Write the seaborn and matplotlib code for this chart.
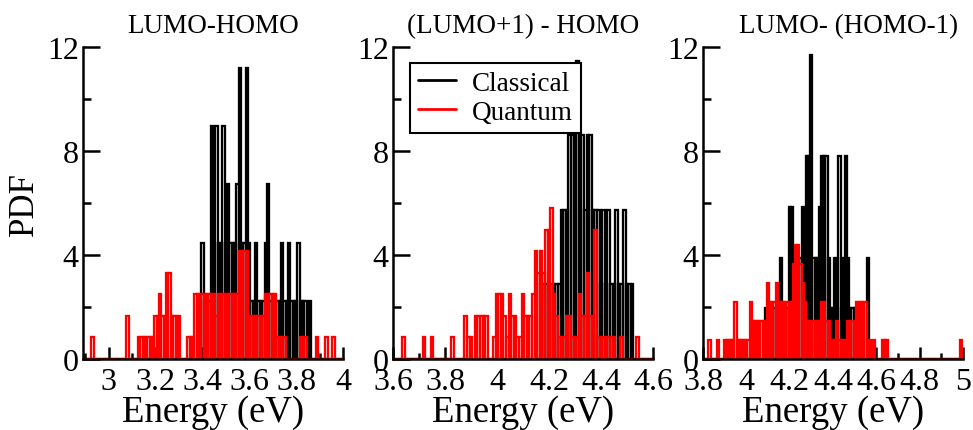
import numpy as np
import matplotlib.pyplot as plt
import seaborn as sns
from matplotlib.lines import Line2D
from matplotlib.ticker import MultipleLocator, FuncFormatter

# ----------- DATA (bin centres in eV, PDF height per bin) ------------

titles = ["LUMO-HOMO", "(LUMO+1) - HOMO", "LUMO- (HOMO-1)"]
xlims = [(2.89, 4.0), (3.6, 4.6), (3.8, 5.0)]

# LUMO-HOMO
lh_quant_e = [2.93, 3.08, 3.13, 3.14, 3.15, 3.16, 3.17, 3.18, 3.19, 3.20, 3.21,
              3.22, 3.23, 3.24, 3.25, 3.26, 3.27, 3.28, 3.29, 3.30, 3.34, 3.35,
              3.36, 3.37, 3.38, 3.39, 3.40, 3.41, 3.42, 3.43, 3.44, 3.45, 3.46,
              3.47, 3.48, 3.49, 3.50, 3.51, 3.52, 3.53, 3.54, 3.55, 3.56, 3.57,
              3.58, 3.59, 3.60, 3.61, 3.62, 3.63, 3.64, 3.65, 3.66, 3.67, 3.68,
              3.69, 3.70, 3.71, 3.72, 3.73, 3.74, 3.75, 3.82, 3.83, 3.84, 3.89,
              3.93, 3.96]
lh_quant_pdf = [0.83, 1.66, 0.83, 0.83, 0.83, 0.83, 0.83, 0.83, 0.83, 1.66, 1.66,
                2.49, 1.66, 1.66, 3.32, 3.32, 1.66, 1.66, 1.66, 1.66, 0.83, 0.83,
                0.83, 2.49, 2.49, 2.49, 2.49, 2.49, 2.49, 2.49, 2.49, 2.49, 1.66,
                2.49, 2.49, 2.49, 2.49, 2.49, 2.49, 2.49, 2.49, 2.49, 4.15, 4.15,
                4.15, 4.15, 1.66, 1.66, 1.66, 1.66, 1.66, 1.66, 1.66, 2.49, 2.49,
                2.49, 2.49, 2.49, 0.83, 0.83, 0.83, 0.83, 0.83, 0.83, 0.83, 0.83,
                0.83, 0.83]
lh_class_e = [3.40, 3.41, 3.42, 3.43, 3.44, 3.45, 3.46, 3.47, 3.48, 3.49, 3.50,
              3.51, 3.52, 3.53, 3.54, 3.55, 3.56, 3.57, 3.58, 3.59, 3.60, 3.61,
              3.62, 3.63, 3.64, 3.65, 3.66, 3.67, 3.68, 3.69, 3.70, 3.71, 3.72,
              3.73, 3.74, 3.75, 3.76, 3.77, 3.78, 3.79, 3.80, 3.81, 3.82, 3.83,
              3.84, 3.86]
lh_class_pdf = [4.48, 2.24, 2.24, 2.24, 8.96, 4.48, 8.96, 4.48, 4.48, 8.96, 4.48,
                6.72, 4.48, 4.48, 4.48, 6.72, 11.2, 4.48, 4.48, 11.2, 4.48, 2.24,
                2.24, 4.48, 2.24, 2.24, 2.24, 4.48, 6.72, 2.24, 2.24, 2.24, 2.24,
                2.24, 4.48, 2.24, 2.24, 4.48, 2.24, 2.24, 2.24, 4.48, 2.24, 2.24,
                2.24, 2.24]

# (LUMO+1) - HOMO
l1h_quant_e = [3.64, 3.72, 3.75, 3.83, 3.88, 3.89, 3.90, 3.92, 3.93, 3.94, 3.95,
               3.96, 3.99, 4.00, 4.01, 4.02, 4.03, 4.04, 4.05, 4.06, 4.07, 4.08,
               4.09, 4.10, 4.11, 4.12, 4.13, 4.14, 4.15, 4.16, 4.17, 4.18, 4.19,
               4.20, 4.21, 4.22, 4.23, 4.24, 4.25, 4.26, 4.27, 4.28, 4.29, 4.30,
               4.31, 4.32, 4.33, 4.34, 4.35, 4.36, 4.37, 4.38, 4.39, 4.40, 4.41,
               4.42, 4.43, 4.44, 4.45, 4.48, 4.54]
l1h_quant_pdf = [0.83, 0.83, 0.83, 0.83, 1.66, 0.83, 0.83, 1.66, 1.66, 1.66, 1.66,
                 1.66, 0.83, 2.49, 2.49, 2.49, 1.66, 0.83, 2.49, 1.66, 1.66, 0.83,
                 0.83, 2.49, 1.66, 1.66, 1.66, 2.49, 4.15, 3.32, 4.15, 3.32, 4.98,
                 4.98, 5.81, 2.49, 1.66, 0.83, 0.83, 0.83, 1.66, 1.66, 0.83, 0.83,
                 0.83, 2.49, 1.66, 1.66, 3.32, 1.66, 1.66, 4.98, 0.83, 0.83, 0.83,
                 0.83, 0.83, 0.83, 0.83, 0.83, 0.83]
l1h_class_e = [4.17, 4.18, 4.19, 4.20, 4.21, 4.22, 4.23, 4.24, 4.25, 4.26, 4.27,
               4.28, 4.29, 4.30, 4.31, 4.32, 4.33, 4.34, 4.35, 4.36, 4.37, 4.38,
               4.39, 4.40, 4.41, 4.42, 4.43, 4.44, 4.45, 4.46, 4.47, 4.48, 4.49,
               4.50, 4.51, 4.52]
l1h_class_pdf = [2.87, 2.87, 2.87, 2.87, 2.87, 2.87, 2.87, 2.87, 5.74, 5.74, 5.74,
                 8.61, 8.61, 8.61, 11.48, 8.61, 8.61, 5.74, 8.61, 8.61, 5.74, 5.74,
                 5.74, 2.87, 5.74, 2.87, 5.74, 2.87, 2.87, 5.74, 2.87, 2.87, 5.74,
                 2.87, 2.87, 2.87]

# LUMO- (HOMO-1)
lh1_quant_e = [3.83, 3.87, 3.90, 3.91, 3.92, 3.93, 3.94, 3.95, 3.96, 3.97, 3.98,
               3.99, 4.00, 4.01, 4.02, 4.03, 4.04, 4.05, 4.06, 4.07, 4.08, 4.09,
               4.10, 4.11, 4.12, 4.13, 4.14, 4.15, 4.16, 4.17, 4.18, 4.19, 4.20,
               4.21, 4.22, 4.23, 4.24, 4.25, 4.26, 4.27, 4.28, 4.29, 4.30, 4.31,
               4.32, 4.33, 4.34, 4.35, 4.36, 4.37, 4.38, 4.39, 4.40, 4.41, 4.42,
               4.43, 4.44, 4.45, 4.46, 4.47, 4.48, 4.49, 4.50, 4.51, 4.52, 4.53,
               4.54, 4.55, 4.56, 4.57, 4.59, 4.63, 4.64, 4.65, 4.99]
lh1_quant_pdf = [0.73, 0.73, 0.73, 0.73, 0.73, 0.73, 0.73, 2.19, 0.73, 0.73, 0.73,
                 0.73, 0.73, 0.73, 2.19, 1.46, 1.46, 1.46, 1.46, 1.46, 1.46, 1.46,
                 2.92, 2.19, 2.19, 2.19, 2.92, 2.19, 2.19, 2.19, 2.19, 2.19, 2.19,
                 2.19, 3.65, 4.38, 4.38, 3.65, 2.92, 2.19, 1.46, 1.46, 1.46, 1.46,
                 1.46, 1.46, 1.46, 2.19, 2.19, 1.46, 1.46, 0.73, 0.73, 0.73, 1.46,
                 0.73, 0.73, 0.73, 0.73, 1.46, 1.46, 1.46, 1.46, 2.19, 2.19, 2.19,
                 2.19, 2.19, 0.73, 0.73, 0.73, 0.73, 0.73, 0.73, 0.73]
lh1_class_e = [4.09, 4.10, 4.11, 4.12, 4.13, 4.14, 4.15, 4.16, 4.17, 4.18, 4.19,
               4.20, 4.21, 4.22, 4.23, 4.24, 4.25, 4.26, 4.27, 4.28, 4.29, 4.30,
               4.31, 4.32, 4.33, 4.34, 4.35, 4.36, 4.37, 4.38, 4.39, 4.40, 4.41,
               4.42, 4.43, 4.44, 4.45, 4.46, 4.47, 4.48, 4.49, 4.50, 4.51, 4.52,
               4.53, 4.54, 4.56]
lh1_class_pdf = [1.95, 1.95, 1.95, 1.95, 1.95, 1.95, 1.95, 3.9, 1.95, 1.95, 1.95,
                 5.85, 5.85, 3.9, 3.9, 3.9, 3.9, 5.85, 3.9, 7.8, 7.8, 11.7,
                 3.9, 3.9, 3.9, 5.85, 7.8, 7.8, 7.8, 3.9, 1.95, 1.95, 3.9,
                 1.95, 7.8, 3.9, 1.95, 7.8, 3.9, 1.95, 1.95, 1.95, 1.95, 1.95,
                 1.95, 1.95, 3.9]

panels = [
    (lh_class_e, lh_class_pdf, lh_quant_e, lh_quant_pdf),
    (l1h_class_e, l1h_class_pdf, l1h_quant_e, l1h_quant_pdf),
    (lh1_class_e, lh1_class_pdf, lh1_quant_e, lh1_quant_pdf),
]

# ----------- STYLE ------------

sns.set_theme(style="ticks")
plt.rcParams['font.family'] = ['Liberation Serif', 'DejaVu Serif']
plt.rcParams.update({'text.color': 'black', 'axes.labelcolor': 'black',
                     'axes.edgecolor': 'black', 'xtick.color': 'black',
                     'ytick.color': 'black'})

fig = plt.figure(figsize=(9.73, 4.31), dpi=100)
lefts = [0.0853, 0.4039, 0.7225]
bw = 0.01

for i, (ax_left, title, (lo, hi), (ce, cp, qe, qp)) in enumerate(zip(lefts, titles, xlims, panels)):
    ax = fig.add_axes([ax_left, 0.1647, 0.2672, 0.7239])
    edges = np.round(np.arange(lo - 0.005, hi + 0.01, bw), 3).tolist()

    # classical below, quantum drawn on top
    sns.histplot(x=ce, weights=cp, bins=edges, stat='count', element='bars',
                 fill=False, color='black', linewidth=1.65, ax=ax)
    sns.histplot(x=qe, weights=qp, bins=edges, stat='count', element='bars',
                 fill=False, color='red', linewidth=1.65, ax=ax)

    ax.set_xlim(lo, hi)
    ax.set_ylim(0, 12)
    ax.xaxis.set_major_locator(MultipleLocator(0.2))
    ax.xaxis.set_minor_locator(MultipleLocator(0.1))
    ax.yaxis.set_major_locator(MultipleLocator(4))
    ax.yaxis.set_minor_locator(MultipleLocator(2))
    ax.xaxis.set_major_formatter(FuncFormatter(lambda v, p: f"{v:g}"))

    for s in ['top', 'right']:
        ax.spines[s].set_visible(False)
    for s in ['left', 'bottom']:
        ax.spines[s].set_linewidth(1.8)
        ax.spines[s].set_zorder(5)

    ax.tick_params(axis='x', which='major', direction='in', length=9, width=1.8,
                   labelsize=23, pad=5.5)
    ax.tick_params(axis='x', which='minor', direction='in', length=4.5, width=1.8)
    ax.tick_params(axis='y', which='major', direction='in', length=12, width=1.8,
                   labelsize=23, pad=3)
    ax.tick_params(axis='y', which='minor', direction='in', length=6, width=1.8)

    ax.set_xlabel("Energy (eV)", fontsize=26.5, labelpad=-1)
    if i == 0:
        ax.set_ylabel("PDF", fontsize=25, labelpad=4)
    else:
        ax.set_ylabel("")
    tx = 0.56 if i == 2 else 0.5
    ax.set_title(title, fontsize=19.5, pad=11, x=tx)

    if i == 1:
        handles = [Line2D([], [], color='black', lw=2),
                   Line2D([], [], color='red', lw=2)]
        leg = ax.legend(handles, ["Classical", "Quantum"], loc='upper left',
                        bbox_to_anchor=(0.065, 0.95), fontsize=19.5,
                        frameon=True, fancybox=False, handlelength=1.4,
                        handletextpad=0.6, borderpad=0.3, labelspacing=0.15,
                        borderaxespad=0)
        leg.get_frame().set_edgecolor('black')
        leg.get_frame().set_linewidth(1.5)
        leg.get_frame().set_alpha(1)

fig.savefig("out.png", dpi=100)
